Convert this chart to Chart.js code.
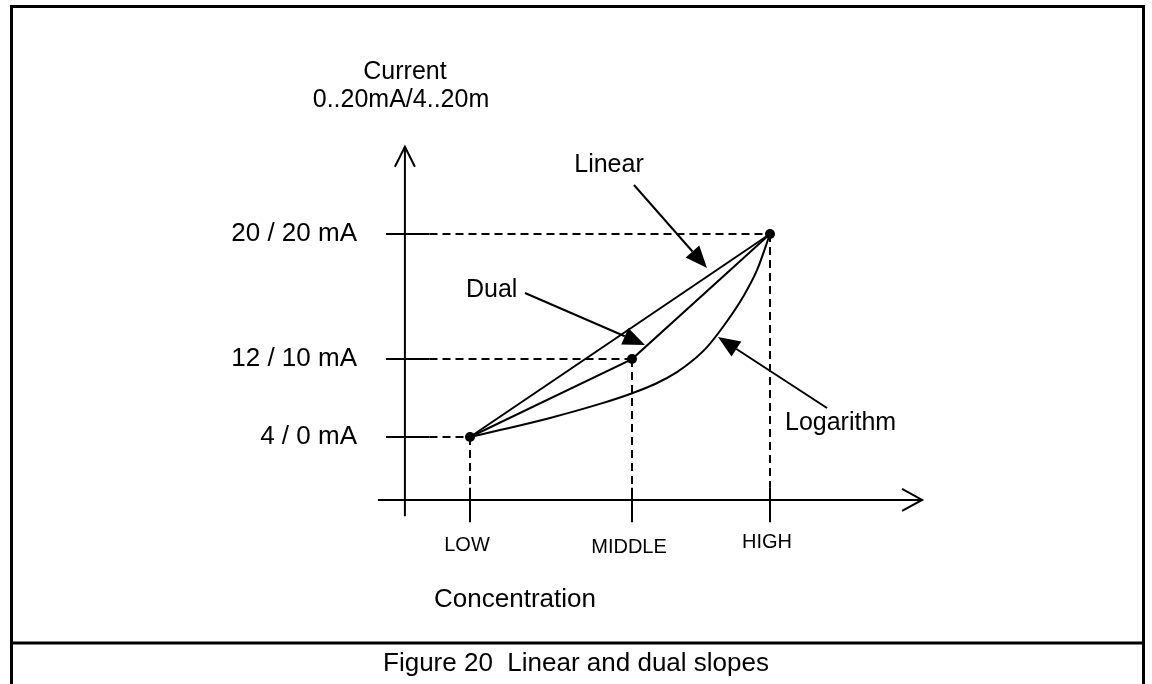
<!DOCTYPE html>
<html><head><meta charset="utf-8">
<script src="https://cdn.jsdelivr.net/npm/chart.js@4/dist/chart.umd.min.js"></script>
<style>html,body{margin:0;padding:0;background:#fff}canvas{display:block}</style>
</head><body>
<canvas id="c" width="1152" height="684"></canvas>
<script>
// ---- data (normalized schematic units) ----
const categories = ['LOW', 'MIDDLE', 'HIGH'];
const concentration = [0, 0.54, 1];
const currentTickLabels = ['4 / 0 mA', '12 / 10 mA', '20 / 20 mA'];
const currentLevels = [0, 0.384, 1];
const linearX = [0, 1];
const linearY = [0, 1];
const dualX = [0, 0.54, 1];
const dualY = [0, 0.384, 1];
const logX = [0, 0.1, 0.267, 0.433, 0.543, 0.617, 0.69, 0.74, 0.79, 0.843, 0.91, 0.957, 1];
const logY = [0, 0.034, 0.094, 0.163, 0.217, 0.261, 0.32, 0.374, 0.443, 0.542, 0.69, 0.823, 1];
const yAxisAt = -0.217, xAxisAt = -0.31;
const yAxisTop = 1.43, yAxisBottom = -0.39;
const xAxisLeft = -0.307, xAxisRight = 1.507;

const pts = (xs, ys) => xs.map((x, i) => ({x, y: ys[i]}));
const FONT = '"Liberation Sans", Arial, Helvetica, sans-serif';

const diagram = {
  id: 'diagram',
  beforeDatasetsDraw(chart) {
    const {ctx, scales: {x, y}} = chart;
    const px = v => x.getPixelForValue(v), py = v => y.getPixelForValue(v);
    ctx.save();
    ctx.strokeStyle = '#000'; ctx.lineCap = 'butt';
    // frame
    ctx.lineWidth = 3;
    ctx.beginPath();
    ctx.moveTo(11.5, 690); ctx.lineTo(11.5, 6.5); ctx.lineTo(1143.5, 6.5); ctx.lineTo(1143.5, 690);
    ctx.moveTo(11, 643); ctx.lineTo(1144, 643);
    ctx.stroke();
    // axes
    ctx.lineWidth = 2;
    ctx.beginPath();
    ctx.moveTo(px(yAxisAt), py(yAxisTop)); ctx.lineTo(px(yAxisAt), py(yAxisBottom));
    ctx.moveTo(px(xAxisLeft), py(xAxisAt)); ctx.lineTo(px(xAxisRight), py(xAxisAt));
    ctx.stroke();
    // arrow heads (open chevrons)
    const tx = px(yAxisAt), ty = py(yAxisTop);
    ctx.beginPath();
    ctx.moveTo(tx - 10, ty + 20); ctx.lineTo(tx, ty); ctx.lineTo(tx + 10, ty + 20);
    const ax = px(xAxisRight), ay = py(xAxisAt);
    ctx.moveTo(ax - 20, ay - 11); ctx.lineTo(ax, ay); ctx.lineTo(ax - 20, ay + 11);
    ctx.stroke();
    // y ticks + dashed guides
    currentLevels.forEach((lv, i) => {
      const yy = py(lv);
      ctx.setLineDash([]);
      ctx.beginPath(); ctx.moveTo(px(-0.28), yy); ctx.lineTo(px(-0.135), yy); ctx.stroke();
      ctx.setLineDash([8, 5]);
      ctx.beginPath(); ctx.moveTo(px(-0.135), yy); ctx.lineTo(px(concentration[i]), yy); ctx.stroke();
    });
    // x ticks + dashed guides
    concentration.forEach((cv, i) => {
      const xx = px(cv);
      ctx.setLineDash([8, 5]);
      ctx.beginPath(); ctx.moveTo(xx, py(currentLevels[i])); ctx.lineTo(xx, py(-0.25)); ctx.stroke();
      ctx.setLineDash([]);
      ctx.beginPath(); ctx.moveTo(xx, py(-0.25)); ctx.lineTo(xx, py(-0.42)); ctx.stroke();
    });
    ctx.restore();
  },
  afterDatasetsDraw(chart) {
    const {ctx, scales: {x, y}} = chart;
    const px = v => x.getPixelForValue(v), py = v => y.getPixelForValue(v);
    ctx.save();
    ctx.fillStyle = '#000'; ctx.strokeStyle = '#000';
    // callout arrows
    const arrow = (x1, y1, x2, y2) => {
      const a = Math.atan2(y2 - y1, x2 - x1), L = 22, W = 9;
      const bx = x2 - L * Math.cos(a), by = y2 - L * Math.sin(a);
      ctx.lineWidth = 2;
      ctx.beginPath(); ctx.moveTo(x1, y1); ctx.lineTo(bx, by); ctx.stroke();
      ctx.beginPath();
      ctx.moveTo(x2, y2);
      ctx.lineTo(bx + W * Math.sin(a), by - W * Math.cos(a));
      ctx.lineTo(bx - W * Math.sin(a), by + W * Math.cos(a));
      ctx.closePath(); ctx.fill();
    };
    arrow(634, 185, 707, 268);
    arrow(525, 293, 645, 345);
    arrow(827, 408, 718, 337);
    // texts
    ctx.textBaseline = 'middle';
    ctx.font = '25px ' + FONT;
    ctx.textAlign = 'center';
    ctx.fillText('Current', 405, 72);
    ctx.fillText('0..20mA/4..20m', 401, 100);
    ctx.fillText('Linear', 609, 165);
    ctx.textAlign = 'left';
    ctx.fillText('Dual', 466, 290);
    ctx.fillText('Logarithm', 785, 423);
    ctx.font = '26px ' + FONT;
    ctx.textAlign = 'right';
    currentTickLabels.forEach((t, i) => ctx.fillText(t, 357, py(currentLevels[i])));
    ctx.textAlign = 'center';
    ctx.font = '20px ' + FONT;
    const lblY = [545, 547, 542];
    categories.forEach((c, i) => ctx.fillText(c, px(concentration[i]) - 3, lblY[i]));
    ctx.font = '26px ' + FONT;
    ctx.fillText('Concentration', 515, 600);
    ctx.fillText('Figure 20  Linear and dual slopes', 576, 664);
    ctx.restore();
  }
};

const lineDs = (label, data, extra) => Object.assign({
  label, data, borderColor: '#000', borderWidth: 2, pointRadius: 0,
  fill: false, clip: false, tension: 0
}, extra || {});

new Chart(document.getElementById('c'), {
  type: 'line',
  data: {
    datasets: [
      lineDs('Linear', pts(linearX, linearY)),
      lineDs('Dual', pts(dualX, dualY)),
      lineDs('Logarithm', pts(logX, logY), {cubicInterpolationMode: 'monotone'}),
      lineDs('Points', pts(concentration, currentLevels), {
        showLine: false, pointRadius: 5, pointBackgroundColor: '#000', pointBorderWidth: 0
      })
    ]
  },
  options: {
    responsive: false, animation: false, devicePixelRatio: 1,
    layout: {padding: {left: 470, right: 382, top: 234, bottom: 247}},
    plugins: {legend: {display: false}, tooltip: {enabled: false}, title: {display: false}},
    scales: {
      x: {type: 'linear', min: 0, max: 1, display: false},
      y: {type: 'linear', min: 0, max: 1, display: false}
    }
  },
  plugins: [diagram]
});
</script>
</body></html>
